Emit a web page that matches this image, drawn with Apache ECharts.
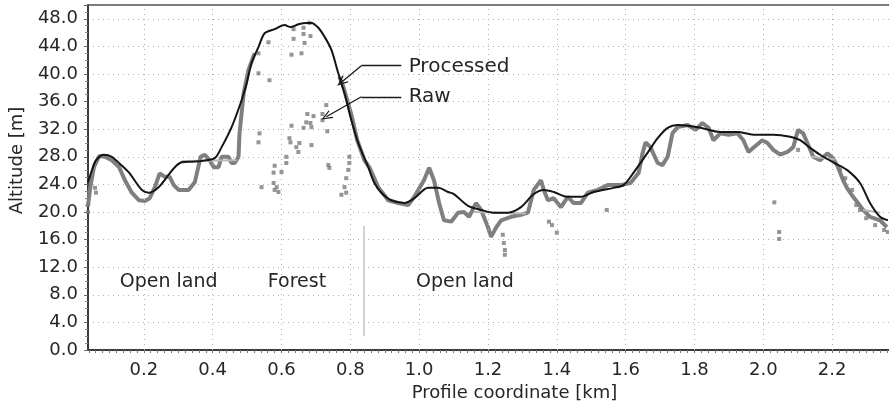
<!DOCTYPE html>
<html>
<head>
<meta charset="utf-8">
<script src="https://cdn.jsdelivr.net/npm/echarts@6/dist/echarts.min.js"></script>
<style>html,body{margin:0;padding:0;background:#fff}#c{width:889px;height:411px}</style>
</head>
<body>
<div id="c"></div>
<script>
// ---- data (km, m) ----
const xTicks = [0.2, 0.4, 0.6, 0.8, 1.0, 1.2, 1.4, 1.6, 1.8, 2.0, 2.2];
const yTicks = [0, 4, 8, 12, 16, 20, 24, 28, 32, 36, 40, 44, 48];

const processed = [[0.038,24.3],[0.050,26.2],[0.061,27.5],[0.084,28.3],[0.107,28.0],[0.130,27.0],[0.157,25.7],[0.194,23.2],[0.214,22.8],[0.243,23.6],[0.272,25.4],[0.290,26.5],[0.310,27.2],[0.340,27.3],[0.368,27.4],[0.406,27.8],[0.426,29.4],[0.455,32.3],[0.484,36.2],[0.499,38.7],[0.513,41.6],[0.533,43.9],[0.551,45.9],[0.580,46.5],[0.609,47.1],[0.626,46.8],[0.649,47.2],[0.672,47.4],[0.687,47.4],[0.707,46.7],[0.725,45.4],[0.745,43.5],[0.765,40.1],[0.783,37.2],[0.803,33.3],[0.823,30.0],[0.852,26.5],[0.870,24.2],[0.890,22.8],[0.919,21.7],[0.957,21.3],[0.986,22.0],[1.026,23.5],[1.055,23.5],[1.084,22.9],[1.101,22.6],[1.142,20.9],[1.180,20.3],[1.217,19.9],[1.258,19.9],[1.296,20.7],[1.333,22.6],[1.362,23.2],[1.391,22.9],[1.432,22.2],[1.470,22.2],[1.507,22.9],[1.565,23.5],[1.594,23.9],[1.623,25.7],[1.664,28.6],[1.693,30.7],[1.722,32.2],[1.751,32.6],[1.780,32.5],[1.817,32.2],[1.875,31.6],[1.925,31.6],[1.971,31.2],[2.029,31.2],[2.078,30.9],[2.107,30.4],[2.136,29.3],[2.165,28.3],[2.203,27.2],[2.243,26.1],[2.281,24.2],[2.310,21.3],[2.339,19.3],[2.362,18.8]];

const rawOpenLand1 = [[0.038,21.0],[0.044,23.5],[0.055,26.5],[0.070,28.1],[0.087,28.0],[0.107,27.5],[0.128,26.5],[0.145,24.6],[0.165,22.8],[0.186,21.7],[0.203,21.6],[0.217,22.0],[0.232,23.6],[0.246,25.6],[0.261,25.1],[0.275,25.1],[0.287,23.9],[0.301,23.2],[0.330,23.2],[0.348,24.3],[0.365,28.0],[0.377,28.3],[0.391,27.5],[0.403,26.5],[0.417,26.5],[0.426,28.0],[0.446,28.0],[0.455,27.1],[0.464,27.1],[0.475,28.0],[0.478,31.4],[0.490,37.2],[0.504,40.6],[0.522,43.0]];

const rawOpenLand2 = [[0.768,39.6],[0.780,38.1],[0.803,34.1],[0.820,30.4],[0.841,27.5],[0.855,26.5],[0.881,23.6],[0.910,21.7],[0.939,21.3],[0.968,21.0],[0.986,22.2],[1.014,24.6],[1.029,26.4],[1.043,24.6],[1.058,21.3],[1.072,18.8],[1.093,18.6],[1.113,19.9],[1.130,20.0],[1.145,19.3],[1.165,21.3],[1.180,20.3],[1.200,17.8],[1.209,16.4],[1.223,17.7],[1.238,18.8],[1.267,19.3],[1.296,19.6],[1.316,19.9],[1.333,23.2],[1.354,24.6],[1.362,23.2],[1.374,21.7],[1.391,22.0],[1.412,20.7],[1.432,22.2],[1.449,21.3],[1.470,21.3],[1.490,22.8],[1.519,23.2],[1.548,23.9],[1.586,23.9],[1.614,24.2],[1.638,25.7],[1.649,28.5],[1.658,30.1],[1.672,29.4],[1.693,27.1],[1.707,26.8],[1.722,28.0],[1.736,31.4],[1.751,32.3],[1.780,32.6],[1.803,31.9],[1.823,32.9],[1.841,32.2],[1.855,30.4],[1.875,31.4],[1.899,31.2],[1.925,31.4],[1.942,30.4],[1.957,28.7],[1.971,29.3],[1.997,30.4],[2.012,30.0],[2.029,29.0],[2.049,28.3],[2.070,28.7],[2.087,29.4],[2.101,31.9],[2.116,31.4],[2.128,30.0],[2.145,28.0],[2.165,27.5],[2.186,28.5],[2.203,27.8],[2.217,26.5],[2.232,24.6],[2.243,23.5],[2.261,22.2],[2.275,21.3],[2.290,20.3],[2.310,19.3],[2.339,18.8],[2.359,17.8]];

const rawPoints = [[0.635,46.5],[0.664,46.7],[0.681,47.4],[0.562,44.6],[0.635,45.1],[0.664,45.8],[0.684,45.5],[0.667,44.5],[0.533,43.0],[0.629,42.8],[0.658,43.0],[0.533,40.1],[0.565,39.1],[0.730,35.5],[0.675,34.2],[0.693,33.9],[0.719,34.2],[0.719,33.3],[0.684,32.9],[0.672,33.0],[0.629,32.5],[0.664,32.2],[0.687,32.3],[0.733,31.7],[0.536,31.4],[0.533,30.1],[0.623,30.7],[0.626,30.1],[0.652,30.0],[0.687,29.7],[0.643,29.4],[0.649,28.7],[0.614,28.0],[0.614,27.1],[0.736,26.8],[0.739,26.4],[0.580,26.7],[0.797,28.0],[0.797,27.1],[0.794,26.1],[0.577,25.7],[0.600,25.8],[0.788,24.9],[0.783,23.6],[0.542,23.6],[0.577,24.2],[0.580,23.2],[0.591,22.9],[0.586,23.6],[0.788,22.8],[0.774,22.5],[1.243,16.7],[1.246,15.5],[1.249,14.5],[1.249,13.8],[1.377,18.6],[1.386,18.1],[1.400,17.0],[1.545,20.3],[2.032,21.4],[2.046,17.1],[2.046,16.1],[2.101,29.0],[0.038,21.0],[0.038,20.0],[0.041,22.5],[0.058,23.5],[0.061,22.8],[2.223,26.1],[2.238,24.9],[2.258,23.2],[2.270,21.0],[2.281,20.3],[2.299,19.1],[2.325,18.1],[2.351,17.4],[2.362,17.1]];

const interpolatedSegments = [
  [[0.31,27.4],[0.47,27.5]],
  [[1.16,20.0],[1.31,19.8]],
  [[2.14,28.0],[2.21,27.6]],
  [[2.29,20.3],[2.34,19.9]]
];

const regionLabels = [
  {name: 'Open land', x: 0.272, y: 9.9},
  {name: 'Forest', x: 0.645, y: 9.9},
  {name: 'Open land', x: 1.133, y: 9.9}
];
const boundary = {x: 0.838, y0: 2.0, y1: 18.0};

const legendNotes = [
  {name: 'Processed', text: [0.968, 41.0], path: [[0.948, 41.2], [0.832, 41.2], [0.774, 38.8]]},
  {name: 'Raw',       text: [0.968, 36.7], path: [[0.948, 36.7], [0.832, 36.7], [0.730, 33.8]]}
];

// ---- chart ----
const X_MIN = 0.0377, X_MAX = 2.3652;
const FONT = 'DejaVu Sans';
const minorX = [];
for (let v = 0.04; v < X_MAX; v += 0.02) minorX.push(+v.toFixed(2));

const arrowHead = 'path://M0,10 L5,0 L10,10 L8.6,10 L5,2.8 L1.4,10 Z';

const noteLines = [];
legendNotes.forEach(n => {
  noteLines.push([{coord: n.path[0], symbol: 'none'}, {coord: n.path[1], symbol: 'none'}]);
  noteLines.push([{coord: n.path[1], symbol: 'none'}, {coord: n.path[2], symbol: arrowHead, symbolSize: [9, 11]}]);
});
noteLines.push([{coord: [boundary.x, boundary.y0], symbol: 'none', lineStyle: {color: '#c4c4c4', width: 1.5, type: 'solid'}},
                {coord: [boundary.x, boundary.y1], symbol: 'none'}]);

const series = [];
// vertical dotted grid lines
series.push({
  type: 'line', data: [], silent: true,
  markLine: {
    silent: true, symbol: ['none', 'none'], animation: false,
    label: {show: false},
    lineStyle: {color: '#b0b0b0', width: 1, type: [1, 4]},
    data: xTicks.map(v => ({xAxis: v}))
  }
});
series.push({type: 'line', data: rawOpenLand1, showSymbol: false, symbol: 'none',
  lineStyle: {color: '#7f7f7f', width: 4}, z: 3, animation: false});
series.push({type: 'line', data: rawOpenLand2, showSymbol: false, symbol: 'none',
  lineStyle: {color: '#7f7f7f', width: 4}, z: 3, animation: false});
series.push({type: 'scatter', data: rawPoints, symbol: 'rect', symbolSize: 4,
  itemStyle: {color: '#7a7a7a'}, z: 3, animation: false});
interpolatedSegments.forEach(seg => series.push({
  type: 'line', data: seg, showSymbol: false, symbol: 'none',
  lineStyle: {color: '#b8b8b8', width: 2}, z: 4, animation: false}));
series.push({type: 'line', data: processed, showSymbol: false, symbol: 'none', smooth: 0.3,
  lineStyle: {color: '#141414', width: 2}, z: 5, animation: false});
// annotations
series.push({
  type: 'line', data: [], z: 6, silent: true,
  markLine: {
    silent: true, animation: false, symbol: ['none', 'none'],
    label: {show: false},
    lineStyle: {color: '#1a1a1a', width: 1.3, type: 'solid'},
    data: noteLines
  },
  markPoint: {
    silent: true, animation: false, symbol: 'circle', symbolSize: 1,
    itemStyle: {color: 'rgba(0,0,0,0)'},
    data: regionLabels.map(r => ({name: r.name, coord: [r.x, r.y],
      label: {show: true, position: 'inside', formatter: '{b}', fontFamily: FONT, fontSize: 19, color: '#262626'}}))
      .concat(legendNotes.map(n => ({name: n.name, coord: n.text,
      label: {show: true, position: 'right', distance: 0, formatter: '{b}', fontFamily: FONT, fontSize: 20, color: '#262626'}})))
  }
});

const chart = echarts.init(document.getElementById('c'), null, {renderer: 'canvas'});
chart.setOption({
  animation: false,
  backgroundColor: '#fff',
  grid: {left: 86, right: 0, top: 5, bottom: 61, containLabel: false},
  xAxis: [{
    type: 'value', min: X_MIN, max: X_MAX,
    name: 'Profile coordinate [km]', nameLocation: 'middle', nameGap: 30,
    nameTextStyle: {fontFamily: FONT, fontSize: 18, color: '#262626', padding: [0, 0, 0, 52]},
    axisLine: {show: true, lineStyle: {color: '#3a3a3a', width: 2}},
    axisTick: {show: true, customValues: minorX, length: 3, lineStyle: {color: '#777', width: 1}},
    axisLabel: {customValues: xTicks, formatter: v => v.toFixed(1), margin: 11,
      fontFamily: FONT, fontSize: 18, color: '#262626'},
    splitLine: {show: false}
  }, {
    type: 'value', position: 'top', min: X_MIN, max: X_MAX,
    axisLine: {show: true, lineStyle: {color: '#555', width: 1.5}},
    axisTick: {show: false}, axisLabel: {show: false}, splitLine: {show: false}
  }],
  yAxis: {
    type: 'value', min: 0, max: 50, interval: 4,
    name: 'Altitude [m]', nameLocation: 'middle', nameGap: 62,
    nameTextStyle: {fontFamily: FONT, fontSize: 18, color: '#262626', padding: [0, 0, 0, 34]},
    axisLine: {show: true, lineStyle: {color: '#3a3a3a', width: 2}},
    axisTick: {show: true, length: 4, lineStyle: {color: '#666'}},
    minorTick: {show: true, splitNumber: 4, length: 3, lineStyle: {color: '#888'}},
    axisLabel: {showMaxLabel: false, margin: 10, fontFamily: FONT, fontSize: 18, color: '#262626',
      formatter: v => (yTicks.indexOf(v) >= 0 ? v.toFixed(1) : '')},
    splitLine: {show: true, lineStyle: {color: '#b0b0b0', width: 1, type: [1, 4]}}
  },
  series: series
});
</script>
</body>
</html>
